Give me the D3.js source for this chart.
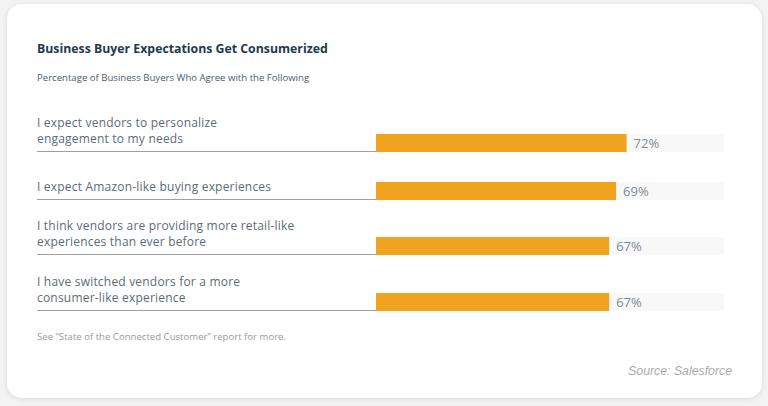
<!DOCTYPE html>
<html>
<head>
<meta charset="utf-8">
<script src="https://cdn.jsdelivr.net/npm/d3@7"></script>
<style>
  html, body { margin: 0; padding: 0; background: #f3f3f3; }
  svg { display: block; }
</style>
</head>
<body>
<svg id="chart" width="768" height="406"></svg>
<script>
// chart data
const statements = [
    ["I expect vendors to personalize", "engagement to my needs"],
    ["I expect Amazon-like buying experiences"],
    ["I think vendors are providing more retail-like", "experiences than ever before"],
    ["I have switched vendors for a more", "consumer-like experience"]
];
const agreePct = [72, 69, 67, 67];
const rowBottoms = [152, 200, 255, 311];

const title = "Business Buyer Expectations Get Consumerized";
const subtitle = "Percentage of Business Buyers Who Agree with the Following";
const footnote = "See \u201cState of the Connected Customer\u201d report for more.";
const source = "Source: Salesforce";

const width = 768, height = 406;
const font = "'Open Sans', 'Noto Sans', sans-serif";

const svg = d3.select("#chart");

const defs = svg.append("defs");
const shadow = defs.append("filter").attr("id", "shadow")
    .attr("x", "-5%").attr("y", "-5%").attr("width", "110%").attr("height", "110%");
shadow.append("feDropShadow")
    .attr("dx", 0).attr("dy", 1).attr("stdDeviation", 2.5)
    .attr("flood-color", "#000").attr("flood-opacity", 0.12);

// card
svg.append("rect")
    .attr("x", 7).attr("y", 4)
    .attr("width", 755).attr("height", 394)
    .attr("rx", 15)
    .attr("fill", "#fff")
    .attr("filter", "url(#shadow)");

svg.append("text")
    .attr("x", 37).attr("y", 53)
    .attr("font-family", font).attr("font-size", 12.3).attr("font-weight", 700)
    .attr("fill", "#1d3b4c")
    .text(title);

svg.append("text")
    .attr("x", 37).attr("y", 81)
    .attr("font-family", font).attr("font-size", 9.6)
    .attr("fill", "#4b5c68")
    .text(subtitle);

const x = d3.scaleLinear().domain([0, 100]).range([376, 724]);
const barH = 18;

const rows = svg.append("g").selectAll("g")
    .data(agreePct.map((v, i) => ({ v, lines: statements[i], bottom: rowBottoms[i] })))
    .join("g");

// track
rows.append("rect")
    .attr("x", x(0)).attr("y", d => d.bottom - barH)
    .attr("width", x(100) - x(0)).attr("height", barH)
    .attr("fill", "#f8f8f8");

// underline
rows.append("line")
    .attr("x1", 37).attr("x2", x(0))
    .attr("y1", d => d.bottom - 0.5).attr("y2", d => d.bottom - 0.5)
    .attr("stroke", "#9aa0a4").attr("stroke-width", 1);

// bar
rows.append("rect")
    .attr("x", x(0)).attr("y", d => d.bottom - barH)
    .attr("width", d => x(d.v) - x(0)).attr("height", barH)
    .attr("fill", "#f0a31f");

// value label
rows.append("text")
    .attr("x", d => x(d.v) + 7).attr("y", d => d.bottom - 4.5)
    .attr("font-family", font).attr("font-size", 13)
    .attr("fill", "#7d8b95")
    .text(d => d.v + "%");

// statement label, one text per line
rows.each(function(d) {
    const g = d3.select(this);
    const n = d.lines.length;
    d.lines.forEach((line, j) => {
        g.append("text")
            .attr("x", 37)
            .attr("y", d.bottom - 9 - (n - 1 - j) * 16.5)
            .attr("font-family", font).attr("font-size", 12)
            .attr("letter-spacing", 0.2)
            .attr("fill", "#5c6b75")
            .text(line);
    });
});

svg.append("text")
    .attr("x", 37).attr("y", 340)
    .attr("font-family", font).attr("font-size", 9.6)
    .attr("fill", "#9a9a9a")
    .text(footnote);

svg.append("text")
    .attr("x", 732).attr("y", 375)
    .attr("text-anchor", "end")
    .attr("font-family", "'Liberation Sans', Arial, sans-serif")
    .attr("font-size", 12.3).attr("font-style", "italic")
    .attr("fill", "#ababab")
    .text(source);
</script>
</body>
</html>
